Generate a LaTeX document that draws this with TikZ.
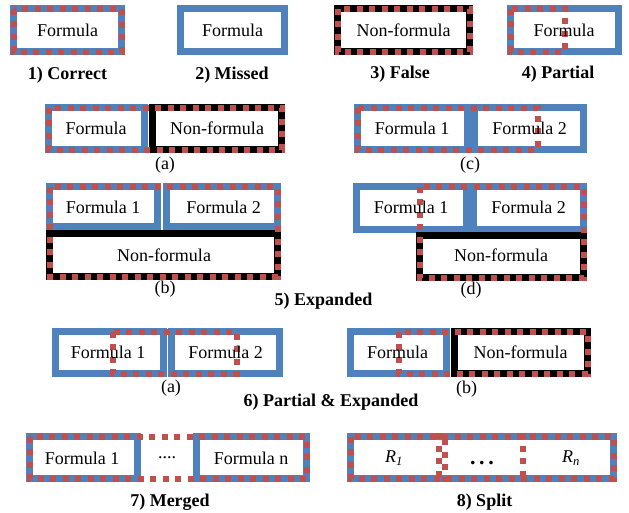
\documentclass[tikz,border=0pt]{standalone}
\usepackage{fontspec}
\setmainfont{Liberation Serif}
\definecolor{gtblue}{HTML}{4F81BD}
\definecolor{detred}{HTML}{C0504D}
\begin{document}
\begin{tikzpicture}[x=1pt,y=-1pt,
  gt/.style={draw=gtblue,line width=7pt},
  nf/.style={draw=black,line width=7pt},
  det/.style={draw=detred,line width=6pt,dash pattern=on 6pt off 6.5pt},
  txt/.style={inner sep=0pt,font=\fontsize{18}{20}\selectfont},
  lab/.style={inner sep=0pt,anchor=base,font=\fontsize{18}{20}\selectfont},
  captxt/.style={inner sep=0pt,anchor=base,font=\fontsize{18}{20}\selectfont\bfseries}]
\fill[white] (0,0) rectangle (629,512);
\useasboundingbox (0,0) rectangle (629,512);
% 1) Correct
\draw[gt] (13.5,8.5) rectangle (121.5,51.5);
\draw[det] (13.5,8.5) rectangle (121.5,51.5);
\node[txt] (t1) at (67.5,30) {Formula};
\node[captxt] (c1) at (67.5,79) {1) Correct};
% 2) Missed
\draw[gt] (180.5,8.5) rectangle (284.5,51.5);
\node[txt] (t2) at (232.5,30) {Formula};
\node[captxt] (c2) at (232,79) {2) Missed};
% 3) False
\draw[nf] (337.5,8.5) rectangle (469.5,51.5);
\draw[det] (337.5,8.5) rectangle (469.5,51.5);
\node[txt] (t3) at (403.5,30) {Non-formula};
\node[captxt] (c3) at (400,78) {3) False};
% 4) Partial
\draw[gt] (510.5,8.5) rectangle (618.5,51.5);
\draw[det] (510.5,8.5) rectangle (565,51.5);
\node[txt] (t4) at (564,30) {Formula};
\node[captxt] (c4) at (558,78) {4) Partial};
% 5a
\draw[gt] (48.5,107.5) rectangle (144.5,149.5);
\draw[nf] (152.5,107.5) rectangle (281.5,149.5);
\draw[det] (48.5,107.5) rectangle (281.5,149.5);
\node[txt] (t5a1) at (96,128.5) {Formula};
\node[txt] (t5a2) at (217,128.5) {Non-formula};
\node[lab] (l5a) at (165,169) {(a)};
% 5b
\draw[gt] (49.5,186.5) rectangle (157.5,226);
\draw[gt] (166.5,186.5) rectangle (277.5,226);
\draw[nf] (49.5,233.5) rectangle (277.5,276.5);
\draw[det] (49.5,186.5) rectangle (277.5,276.5);
\node[txt] (t5b1) at (103,207) {Formula 1};
\node[txt] (t5b2) at (223.5,207) {Formula 2};
\node[txt] (t5b3) at (164,255) {Non-formula};
\node[lab] (l5b) at (165,293) {(b)};
% 5c
\draw[gt] (357.5,107.5) rectangle (467.5,149.5);
\draw[gt] (474.5,107.5) rectangle (583.5,149.5);
\draw[det] (357.5,107.5) rectangle (537.5,149.5);
\node[txt] (t5c1) at (412,128.5) {Formula 1};
\node[txt] (t5c2) at (529.5,128.5) {Formula 2};
\node[lab] (l5c) at (470,169) {(c)};
% 5d
\draw[gt] (356.5,186.5) rectangle (466.5,229.5);
\draw[gt] (473.5,186.5) rectangle (583.5,229.5);
\draw[nf] (419.5,235.5) rectangle (583.5,277.5);
\draw[det] (419.5,186.5) rectangle (583.5,277.5);
\node[txt] (t5d1) at (411,207) {Formula 1};
\node[txt] (t5d2) at (528.5,207) {Formula 2};
\node[txt] (t5d3) at (501,255) {Non-formula};
\node[lab] (l5d) at (471,294) {(d)};
\node[captxt] (c5) at (323.5,305) {5) Expanded};
% 6a
\draw[gt] (55.5,331.5) rectangle (163.5,373.5);
\draw[gt] (171.5,331.5) rectangle (279.5,373.5);
\draw[det] (112.5,331.5) rectangle (236.5,373.5);
\node[txt] (t6a1) at (108,352) {Formula 1};
\node[txt] (t6a2) at (225.5,352) {Formula 2};
\node[lab] (l6a) at (171,392) {(a)};
% 6b
\draw[gt] (350.5,331.5) rectangle (446.5,373.5);
\draw[nf] (454.5,331.5) rectangle (587.5,373.5);
\draw[det] (398.5,331.5) rectangle (587.5,373.5);
\node[txt] (t6b1) at (397.5,352) {Formula};
\node[txt] (t6b2) at (520.5,352) {Non-formula};
\node[lab] (l6b) at (466.5,393) {(b)};
\node[captxt] (c6) at (331,406) {6) Partial \& Expanded};
% 7) Merged
\draw[gt] (29.5,436.5) rectangle (137,478.5);
\draw[gt] (196.5,436.5) rectangle (306.5,478.5);
\draw[det] (29.5,436.5) rectangle (306.5,478.5);
\node[txt] (t7a) at (82,458) {Formula 1};
\node[txt] (t7b) at (167,458) {....};
\node[txt] (t7c) at (251,458) {Formula n};
\node[captxt] (c7) at (170,506) {7) Merged};
% 8) Split
\draw[gt] (350.5,436.5) rectangle (613.5,478.5);
\draw[det] (350.5,436.5) rectangle (613.5,478.5);
\draw[det] (439,433) -- (439,482);
\draw[det,dash phase=6.2pt] (444.5,433) -- (444.5,482);
\draw[det] (522.5,433) -- (522.5,482);
\node[txt] (t8a) at (394,458) {\textit{R}\textsubscript{\textit{1}}};
\node[lab] (t8b) at (482,464) {\fontsize{22}{24}\selectfont\bfseries .\,.\,.};
\node[txt] (t8c) at (571,458) {\textit{R}\textsubscript{\textit{n}}};
\node[captxt] (c8) at (484.5,506) {8) Split};
\end{tikzpicture}
\end{document}
